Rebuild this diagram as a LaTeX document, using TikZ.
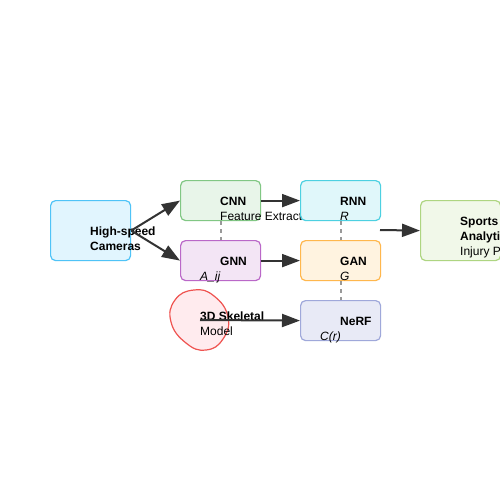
\documentclass[tikz,border=0pt]{standalone}
\usepackage{fontspec}
\setmainfont{Liberation Sans}
\usetikzlibrary{arrows.meta}
\definecolor{ink}{HTML}{333333}
\definecolor{dashgray}{HTML}{999999}
\definecolor{camF}{HTML}{E1F5FE}\definecolor{camD}{HTML}{4FC3F7}
\definecolor{cnnF}{HTML}{E8F5E9}\definecolor{cnnD}{HTML}{81C784}
\definecolor{rnnF}{HTML}{E0F7FA}\definecolor{rnnD}{HTML}{4DD0E1}
\definecolor{gnnF}{HTML}{F3E5F5}\definecolor{gnnD}{HTML}{BA68C8}
\definecolor{ganF}{HTML}{FFF3E0}\definecolor{ganD}{HTML}{FFB74D}
\definecolor{nerfF}{HTML}{E8EAF6}\definecolor{nerfD}{HTML}{9FA8DA}
\definecolor{skF}{HTML}{FFEBEE}\definecolor{skD}{HTML}{EF5350}
\definecolor{spF}{HTML}{F1F8E9}\definecolor{spD}{HTML}{AED581}
\begin{document}
\begin{tikzpicture}[x=1pt,y=-1pt,
  box/.style={draw, line width=1.2pt, rounded corners=5pt, minimum width=80pt, minimum height=40pt, inner sep=0pt, anchor=north west},
  lbl/.style={anchor=base west, inner sep=0pt, font=\fontsize{12}{14}\selectfont\bfseries},
  sub/.style={anchor=base west, inner sep=0pt, font=\fontsize{12}{14}\selectfont},
  subi/.style={anchor=base west, inner sep=0pt, font=\fontsize{12}{14}\selectfont\itshape},
  flow/.style={draw=ink, line width=2pt, -{Triangle[length=18pt,width=13pt]}},
  link/.style={draw=dashgray, line width=2pt, dash pattern=on 4pt off 4pt}]
\useasboundingbox (0,0) rectangle (500,500);
\clip (0,0) rectangle (500,500);
\fill[white] (0,0) rectangle (500,500);

% Cameras
\node[box, draw=camD, fill=camF, minimum height=60pt] (cam) at (50,200) {};
\node[lbl] (camt1) at (90,235) {High-speed};
\node[lbl] (camt2) at (90,250) {Cameras};

% CNN
\node[box, draw=cnnD, fill=cnnF] (cnn) at (180,180) {};
\node[lbl] (cnnt) at (220,205.5) {CNN};
\node[sub] (cnns) at (220,220.5) {Feature Extraction};

% GNN
\node[box, draw=gnnD, fill=gnnF] (gnn) at (180,240) {};
\node[lbl] (gnnt) at (220,265.5) {GNN};
\node[subi] (gnns) at (200,280) {A\_ij};

% RNN
\node[box, draw=rnnD, fill=rnnF] (rnn) at (300,180) {};
\node[lbl] (rnnt) at (340,205.5) {RNN};
\node[subi] (rnns) at (340,220) {R};

% GAN
\node[box, draw=ganD, fill=ganF] (gan) at (300,240) {};
\node[lbl] (gant) at (340,265.5) {GAN};
\node[subi] (gans) at (340,280) {G};

% NeRF
\node[box, draw=nerfD, fill=nerfF] (nerf) at (300,300) {};
\node[lbl] (nerft) at (340,325.5) {NeRF};
\node[subi] (nerfs) at (320,340) {C(r)};

% Skeletal blob
\draw[draw=skD, fill=skF, line width=1.2pt] plot[smooth cycle, tension=0.8] coordinates
  {(194,290) (214,296) (228,317) (223,339) (206,350) (186,343) (171,322) (175,300)};
\coordinate (skel) at (200,320);
\node[lbl] (skt1) at (200,320.5) {3D Skeletal};
\node[sub] (skt2) at (200,335) {Model};

% Sports
\node[box, draw=spD, fill=spF, minimum height=60pt] (sport) at (420,200) {};
\node[lbl] (spt1) at (460,225) {Sports};
\node[lbl] (spt2) at (460,240) {Analytics};
\node[sub] (spt3) at (460,255) {Injury Prediction};

% dashed links
\draw[link] (cnn.south) -- (gnn.north);
\draw[link] (rnn.south) -- (gan.north);
\draw[link] (gan.south) -- (nerf.north);

% arrows
\draw[flow] (cam.east) -- (cnn.west);
\draw[flow] (cam.east) -- (gnn.west);
\draw[flow] (cnn.east) -- (rnn.west);
\draw[flow] (gnn.east) -- (gan.west);
\draw[flow] (skel) -- (nerf.west);
\coordinate (mid) at (380,230);
\draw[flow] (mid) -- (sport.west);
\end{tikzpicture}
\end{document}
